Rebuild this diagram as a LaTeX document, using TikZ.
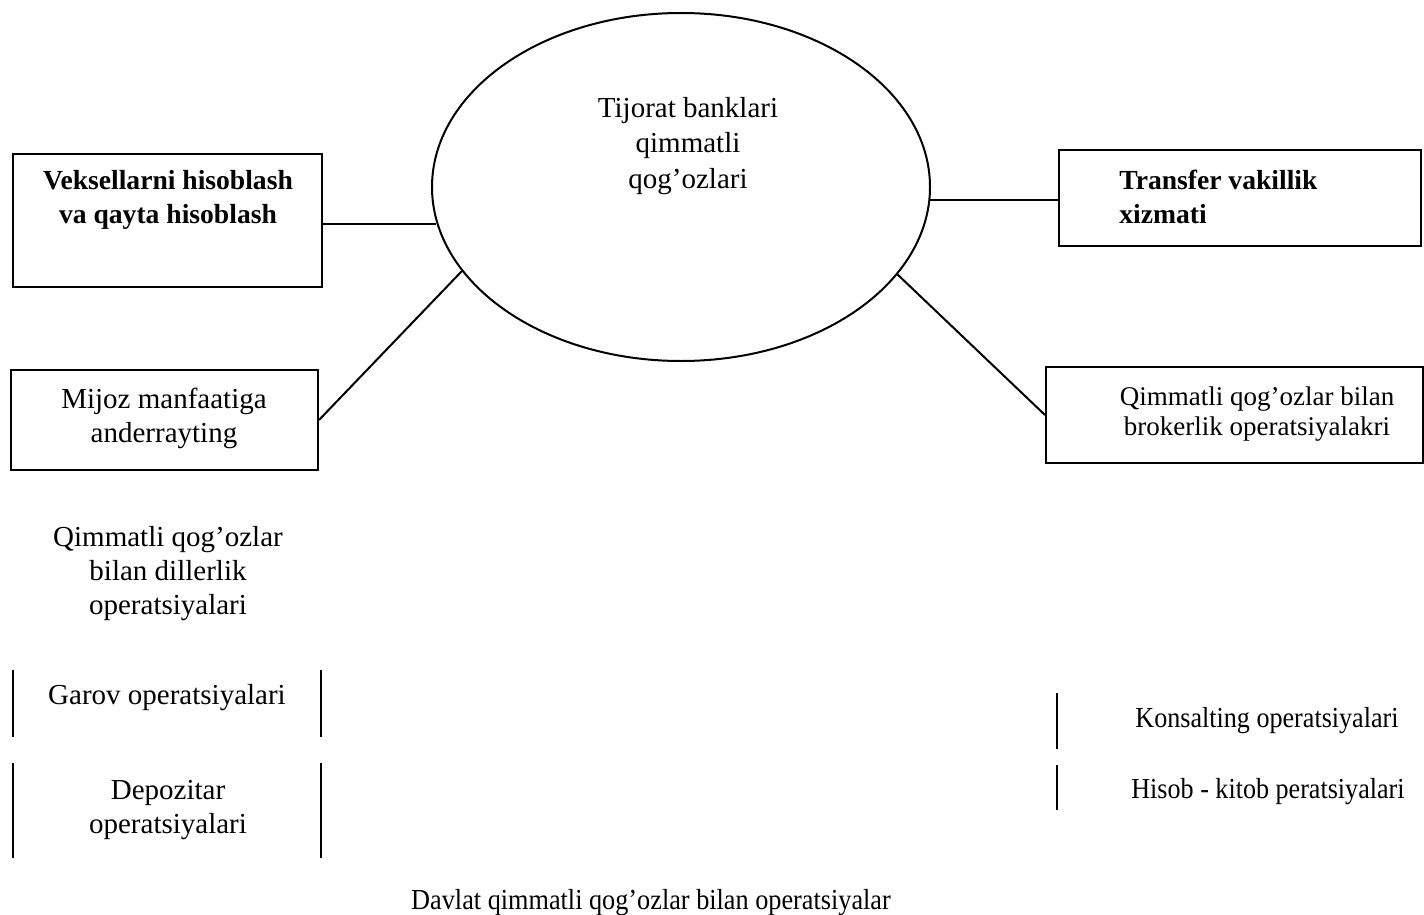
\documentclass[tikz,border=0pt]{standalone}
\usepackage{fontspec}
\setmainfont{Liberation Serif}
\usetikzlibrary{shapes.geometric}
\begin{document}
\begin{tikzpicture}[x=0.5pt,y=-0.5pt,
  box/.style={draw, line width=1pt, rectangle, inner sep=0pt},
  txt/.style={align=center, inner sep=0pt, font=\fontsize{14.5}{17}\selectfont},
  boldtxt/.style={align=center, inner sep=0pt, font=\fontsize{13.8}{17}\selectfont\bfseries},
  link/.style={line width=1pt},
  bar/.style={line width=0.8pt}]
\useasboundingbox (0,0) rectangle (1424,915);
\fill[white] (0,0) rectangle (1424,915);

% central ellipse
\node[ellipse, draw, line width=1pt, minimum width=249pt, minimum height=174pt, inner sep=0pt] (ell) at (681,187) {};
\node[txt, font=\fontsize{14.5}{17.8}\selectfont] (elltxt) at (688,146) {Tijorat banklari\\qimmatli\\qog’ozlari};

% boxes
\node[box, minimum width=154.5pt, minimum height=66.5pt] (vek) at (167.5,220.5) {};
\node[boldtxt] (vektxt) at (168,200) {Veksellarni hisoblash\\va qayta hisoblash};

\node[box, minimum width=153.5pt, minimum height=50pt] (mij) at (164.5,420) {};
\node[txt] (mijtxt) at (164,418) {Mijoz manfaatiga\\anderrayting};

\node[box, minimum width=181pt, minimum height=48pt] (tra) at (1240,198) {};
\node[boldtxt, align=left, anchor=west] (tratxt) at (1119,197) {Transfer vakillik\\xizmati};

\node[box, minimum width=188.5pt, minimum height=48pt] (bro) at (1234.5,415) {};
\node[txt, font=\fontsize{13.5}{15}\selectfont] (brotxt) at (1257,414) {Qimmatli qog’ozlar bilan\\brokerlik operatsiyalakri};

% connectors
\coordinate (vekend) at (ell.188.7);
\draw[link] (vek.east |- 0,224) -- (vekend |- 0,224);
\draw[link] (mij.east) -- (ell.201.5);
\draw[link] (ell.-3) -- (tra.west |- ell.-3);
\draw[link] (ell.-22.6) -- (bro.west);

% lower items
\node[txt] (dil) at (168,574) {Qimmatli qog’ozlar\\bilan dillerlik\\operatsiyalari};
\node[txt] (gar) at (167,698) {Garov operatsiyalari};
\node[txt] (dep) at (168,810) {Depozitar\\operatsiyalari};
\node[txt] (kon) at (1267,721) {\scalebox{0.9}[1]{Konsalting operatsiyalari}};
\node[txt] (his) at (1268,792) {\scalebox{0.9}[1]{Hisob - kitob peratsiyalari}};
\node[txt] (dav) at (651,903) {\scalebox{0.905}[1]{Davlat qimmatli qog’ozlar bilan operatsiyalar}};

% side rules
\draw[bar] (13,670) -- (13,737);
\draw[bar] (321,670) -- (321,737);
\draw[bar] (13,763) -- (13,858);
\draw[bar] (321,763) -- (321,858);
\draw[bar] (1057,693) -- (1057,749);
\draw[bar] (1057,765) -- (1057,810);
\end{tikzpicture}
\end{document}
